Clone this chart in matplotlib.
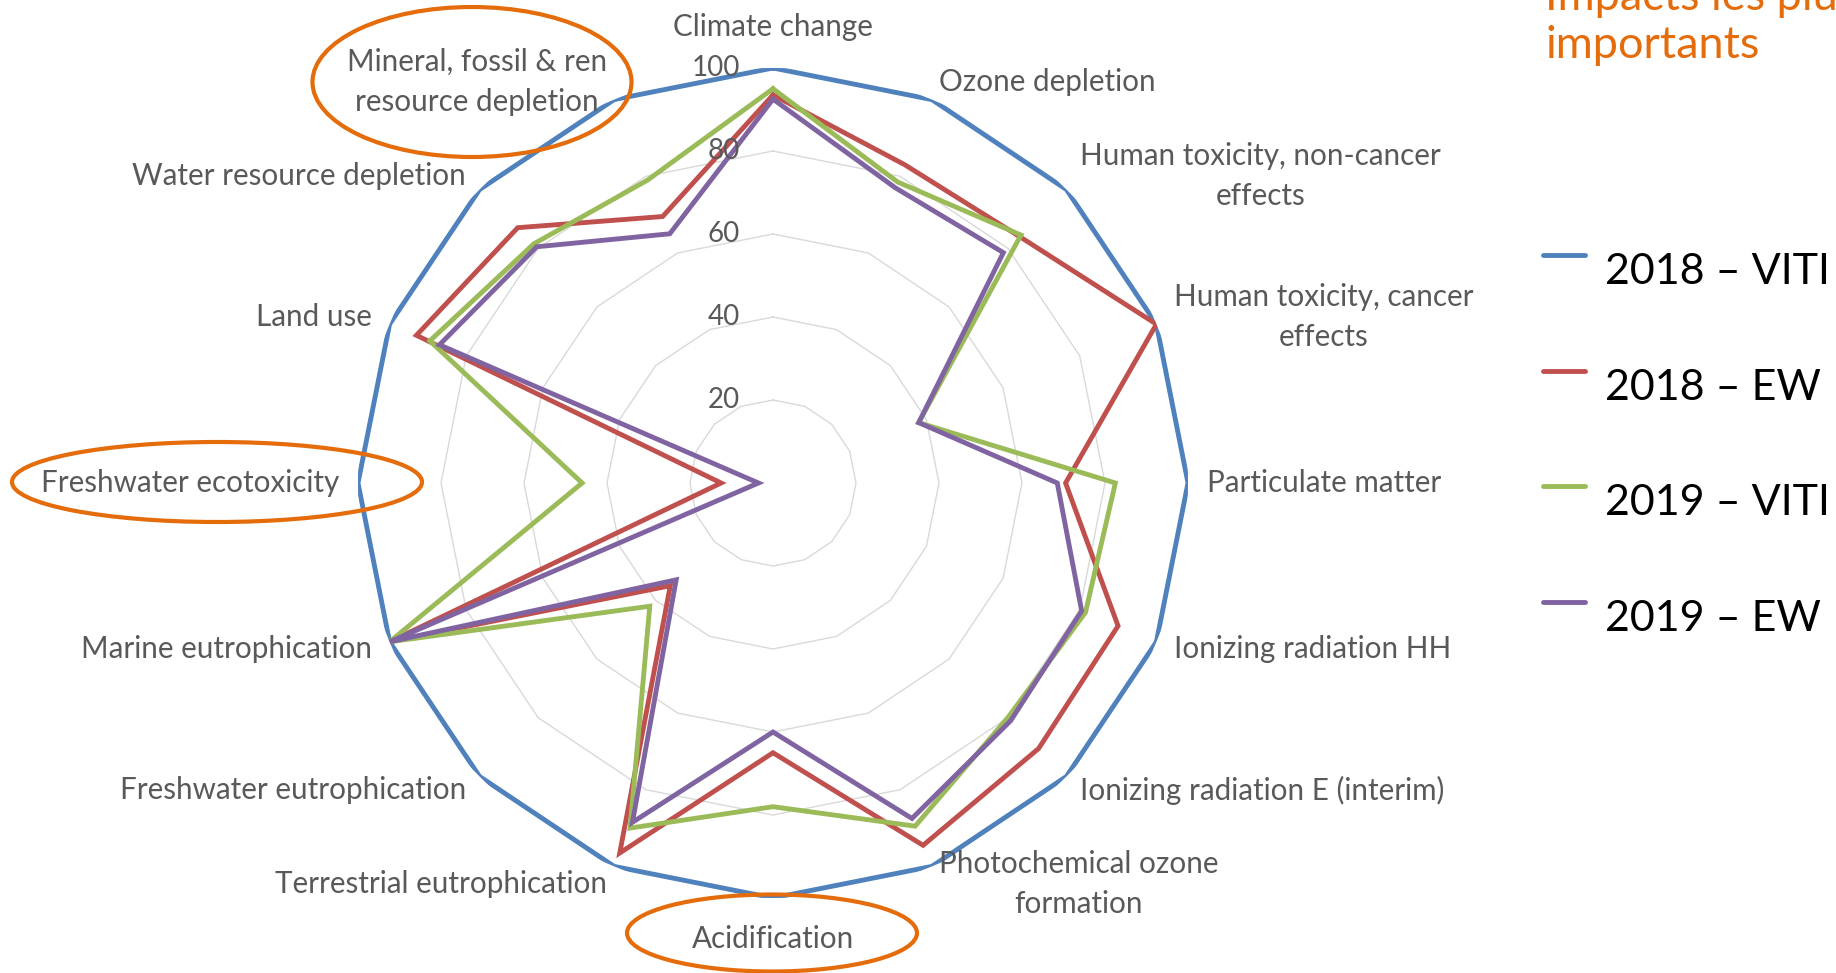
import numpy as np
import matplotlib
matplotlib.use('Agg')
import matplotlib.pyplot as plt
from matplotlib.patches import Ellipse
from matplotlib.lines import Line2D

# impact categories, clockwise from the top
categories = [
    'Climate change',
    'Ozone depletion',
    'Human toxicity, non-cancer\neffects',
    'Human toxicity, cancer\neffects',
    'Particulate matter',
    'Ionizing radiation HH',
    'Ionizing radiation E (interim)',
    'Photochemical ozone\nformation',
    'Acidification',
    'Terrestrial eutrophication',
    'Freshwater eutrophication',
    'Marine eutrophication',
    'Freshwater ecotoxicity',
    'Land use',
    'Water resource depletion',
    'Mineral, fossil & ren\nresource depletion',
]

viti_2018 = [100, 100, 100, 100, 100, 100, 100, 100, 100, 100, 100, 100, 100, 100, 100, 100]
ew_2018 = [93.5, 83, 84, 100, 70.5, 90, 90.5, 94.5, 65, 96.5, 35, 100, 12.5, 93, 87, 69.5]
viti_2019 = [95, 78.5, 84.5, 38, 82.5, 81.5, 80, 89.5, 78, 90, 42, 100, 46, 89.5, 81.5, 79]
ew_2019 = [92.5, 77, 78.5, 38, 68.5, 80.5, 81, 87.5, 60, 88.5, 33, 100, 3.5, 87, 80.5, 65]

series_names = ['2018 \u2013 VITI', '2018 \u2013 EW', '2019 \u2013 VITI', '2019 \u2013 EW']
series_colors = ['#4F81BD', '#C0504D', '#9BBB59', '#8064A2']
grid_levels = [20, 40, 60, 80, 100]

W, H = 1836, 973
FONT = 'Lato'
orange = '#E46C0A'

fig = plt.figure(figsize=(W / 100, H / 100), dpi=100)
fig.patch.set_facecolor('white')

# polar axes centred at (773, 483) px with radius 415 px
cx, cy, R = 773, 483, 415
ax = fig.add_axes([(cx - R) / W, (H - cy - R) / H, 2 * R / W, 2 * R / H], projection='polar')
ax.set_theta_zero_location('N')
ax.set_theta_direction(-1)
ax.set_ylim(0, 100)
ax.grid(False)
ax.set_xticks([])
ax.set_yticks([])
ax.spines['polar'].set_visible(False)
ax.patch.set_alpha(0)

n = len(categories)
theta = np.arange(n) * 2 * np.pi / n
theta_closed = np.append(theta, theta[0])

# polygon gridlines
for lvl in grid_levels:
    ax.plot(theta_closed, [lvl] * (n + 1), color='#D9D9D9', lw=1.0, zorder=1)
    ax.annotate(str(lvl), xy=(0, lvl), xytext=(-24, 0), textcoords='offset points',
                ha='right', va='center', fontsize=20, color='#595959', family=FONT, zorder=5)

for vals, name, col in zip([viti_2018, ew_2018, viti_2019, ew_2019], series_names, series_colors):
    v = np.append(vals, vals[0])
    ax.plot(theta_closed, v, color=col, lw=3.5, label=name, zorder=3,
            solid_joinstyle='miter')

# category labels around the outside
for ang, lab in zip(theta, categories):
    s = np.sin(ang)
    if abs(s) < 1e-6:
        ha = 'center'
        va = 'bottom' if np.cos(ang) > 0 else 'top'
        r = 106.5
    else:
        ha = 'left' if s > 0 else 'right'
        va = 'center'
        r = 104.6
    ax.text(ang, r, lab, ha=ha, va=va, multialignment='center', fontsize=21.3,
            color='#595959', family=FONT, linespacing=1.53)

# legend on the right: short line key sitting at the top of each label
for i, (name, col) in enumerate(zip(series_names, series_colors)):
    y_key = 255 + i * 115.7
    fig.add_artist(Line2D([1543 / W, 1585 / W], [(H - y_key) / H] * 2,
                          transform=fig.transFigure, color=col, lw=3.5,
                          solid_capstyle='round'))
    fig.text(1605 / W, (H - y_key - 17) / H, name, fontsize=31, family=FONT,
             color='black', ha='left', va='center')

# highlighted categories
for (ex, ey, ew, eh) in [(472, 82, 319, 150), (217, 482, 410, 80), (772, 933, 290, 77)]:
    fig.add_artist(Ellipse((ex / W, (H - ey) / H), ew / W, eh / H, transform=fig.transFigure,
                           fill=False, edgecolor=orange, lw=3.0))

fig.text(1545 / W, (H - 10) / H, 'Impacts les plus', color=orange, fontsize=32.5,
         family=FONT, ha='left', va='baseline')
fig.text(1545 / W, (H - 58) / H, 'importants', color=orange, fontsize=32.5,
         family=FONT, ha='left', va='baseline')

fig.savefig('out.png', dpi=100)
